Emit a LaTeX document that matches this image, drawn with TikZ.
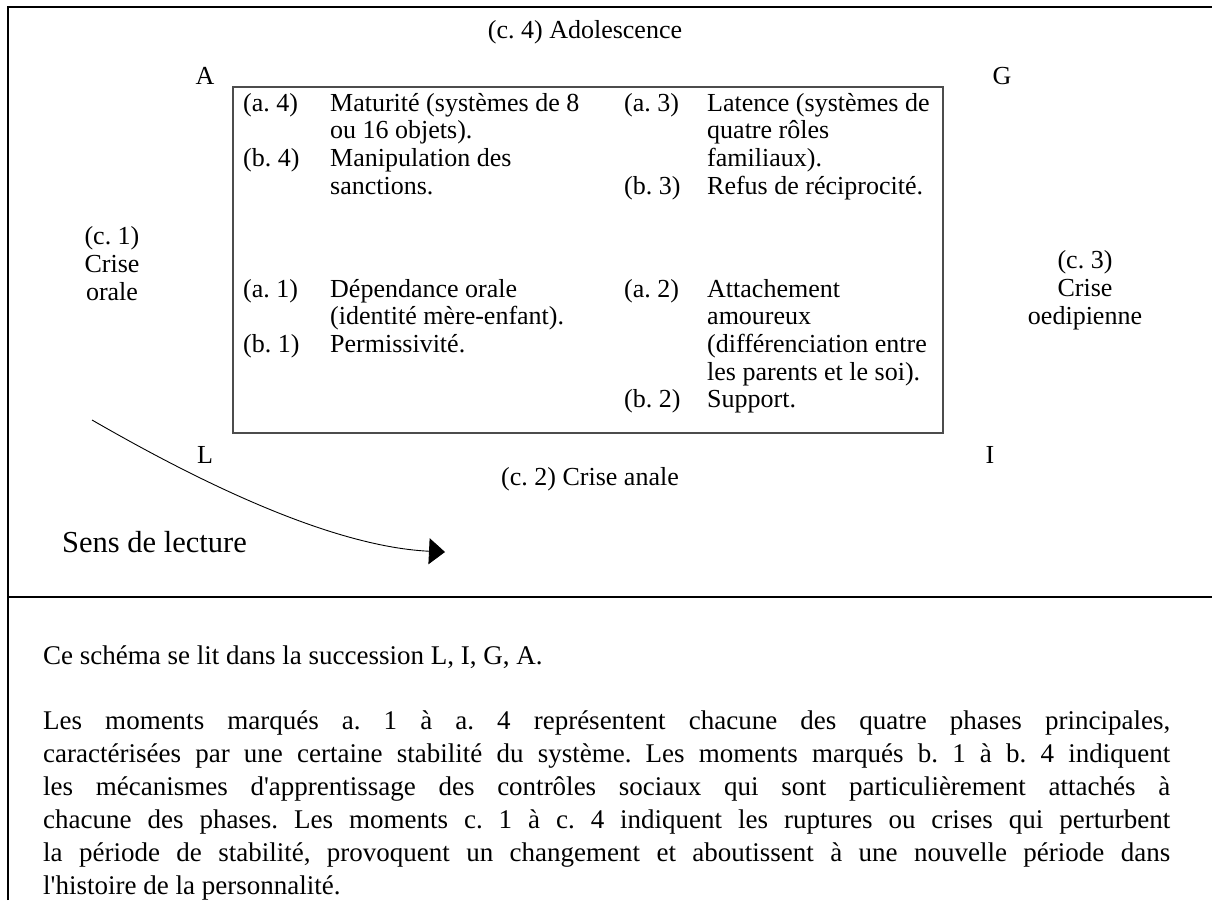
\documentclass[tikz,border=0pt]{standalone}
\usepackage{fontspec}
\setmainfont{Liberation Serif}
\usetikzlibrary{arrows.meta}
\frenchspacing
\newcommand\diagfont{\fontsize{26}{27.7}\selectfont}
\newcommand\notefont{\fontsize{27}{33}\selectfont}
\newcommand\apos{\textquotesingle}
\tikzstyle{frame}=[line width=2.5pt]
\tikzstyle{stagebox}=[draw=black!70,line width=1.4pt]
\tikzstyle{lbl}=[inner sep=0pt,font=\diagfont]
\tikzstyle{crisis}=[lbl,align=center,anchor=base]
\tikzstyle{item}=[lbl,anchor=base west]
\tikzstyle{note}=[inner sep=0pt,font=\notefont,anchor=base west]
\tikzstyle{readhead}=[line width=.9pt,-{Triangle[length=16pt,width=26pt]}]
\newcommand\phases[2]{\begin{tabular}[t]{@{}p{#1}@{}l@{}}#2\end{tabular}}
\begin{document}
\begin{tikzpicture}[x=1pt,y=-1pt]
\useasboundingbox (0,0) rectangle (1212,900);
\draw[frame] (8,900) |- (1212,7);
\draw[frame] (8,597) -- (1212,597);
\draw[stagebox] (233,87) rectangle (943,433);
% corners and crises
\node[crisis] (c4) at (585,38) {(c. 4) Adolescence};
\node[crisis] (A) at (205,84) {A};
\node[crisis] (G) at (1002,84) {G};
\node[crisis] (L) at (205,463) {L};
\node[crisis] (I) at (990,463) {I};
\node[crisis] (c2) at (590,485) {(c. 2) Crise anale};
\node[crisis] (c1) at (112,300) {(c. 1)\\Crise\\orale};
\node[crisis] (c3) at (1085,324) {(c. 3)\\Crise\\oedipienne};
% phases
\node[item] (q4) at (243,111) {\phases{87pt}{(a. 4) & Maturité (systèmes de 8\\ & ou 16 objets).\\ (b. 4) & Manipulation des\\ & sanctions.}};
\node[item] (q3) at (624,111) {\phases{83pt}{(a. 3) & Latence (systèmes de\\ & quatre rôles\\ & familiaux).\\ (b. 3) & Refus de réciprocité.}};
\node[item] (q1) at (243,297) {\phases{87pt}{(a. 1) & Dépendance orale\\ & (identité mère-enfant).\\ (b. 1) & Permissivité.}};
\node[item] (q2) at (624,297) {\phases{83pt}{(a. 2) & Attachement\\ & amoureux\\ & (différenciation entre\\ & les parents et le soi).\\ (b. 2) & Support.}};
% reading direction
\coordinate (rs) at (92,420);
\coordinate (re) at (445,552);
\draw[readhead] (rs) .. controls (172,466) and (320,546) .. (re);
\node[note,font=\fontsize{30.5}{36}\selectfont] (sens) at (62,552) {Sens de lecture};
% legend
\node[note] (lead) at (43,664) {Ce schéma se lit dans la succession L, I, G, A.};
\foreach \ln [count=\i] in {%
  {Les moments marqués a. 1 à a. 4 représentent chacune des quatre phases principales,},
  {caractérisées par une certaine stabilité du système. Les moments marqués b. 1 à b. 4 indiquent},
  {les mécanismes d\apos apprentissage des contrôles sociaux qui sont particulièrement attachés à},
  {chacune des phases. Les moments c. 1 à c. 4 indiquent les ruptures ou crises qui perturbent},
  {la période de stabilité, provoquent un changement et aboutissent à une nouvelle période dans}}
  \node[note] (p\i) at (43,696+33*\i) {\makebox[1127pt][s]{\ln}};
\node[note] (p6) at (43,894) {l\apos histoire de la personnalité.};
\end{tikzpicture}
\end{document}
